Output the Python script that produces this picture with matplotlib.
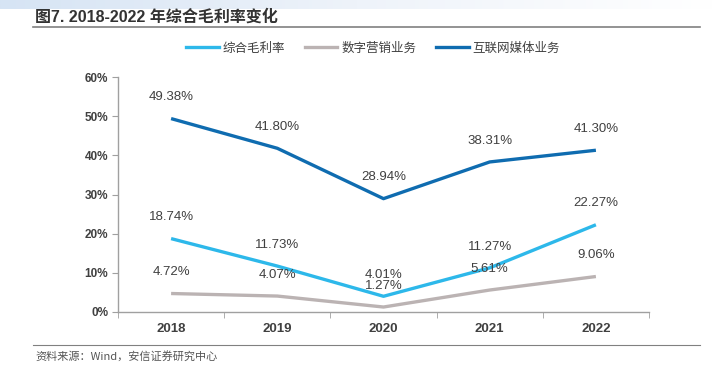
import numpy as np
import matplotlib
matplotlib.use("Agg")
import matplotlib.pyplot as plt
from matplotlib.lines import Line2D

plt.rcParams['font.family'] = ['Liberation Sans', 'Noto Sans CJK SC', 'DejaVu Sans']

years = ["2018", "2019", "2020", "2021", "2022"]
gross_margin = [18.74, 11.73, 4.01, 11.27, 22.27]      # 综合毛利率
digital_mkt = [4.72, 4.07, 1.27, 5.61, 9.06]           # 数字营销业务
internet_media = [49.38, 41.80, 28.94, 38.31, 41.30]   # 互联网媒体业务
series_names = ["综合毛利率", "数字营销业务", "互联网媒体业务"]
colors = ["#2DB8EA", "#BBB3B3", "#0F6CB0"]
y_ticks = [0, 10, 20, 30, 40, 50, 60]

fig = plt.figure(figsize=(7.13, 3.67), dpi=100)

# 顶部浅蓝渐变条
band = fig.add_axes([0, 1 - 9 / 367, 1, 9 / 367])
grad = np.linspace(0, 1, 256).reshape(1, -1)
band.imshow(grad, aspect='auto', cmap=matplotlib.colors.LinearSegmentedColormap.from_list(
    "b", ["#D6E4F4", "#EEF3FA", "#FFFFFF"]), extent=[0, 1, 0, 1])
band.axis('off')

# 标题和分隔线
fig.text(35 / 713, 1 - 17 / 367, "图7. 2018-2022 年综合毛利率变化", fontsize=11.5,
         fontweight='bold', color='#333333', va='center', ha='left',
         family=['Liberation Sans', 'Noto Sans CJK SC'])
fig.add_artist(Line2D([33 / 713, 700 / 713], [1 - 27 / 367, 1 - 27 / 367],
                      color='#808080', lw=1.2))
fig.add_artist(Line2D([33 / 713, 700 / 713], [1 - 345 / 367, 1 - 345 / 367],
                      color='#808080', lw=0.8))
fig.text(35 / 713, 1 - 356 / 367, "资料来源：Wind，安信证券研究中心", fontsize=8,
         color='#555555', va='center', ha='left', style='italic',
         family=['Noto Sans CJK SC', 'DejaVu Sans'])

ax = fig.add_axes([118 / 713, 1 - 312 / 367, (649 - 118) / 713, (312 - 77) / 367])
x = np.arange(len(years))
all_series = [gross_margin, digital_mkt, internet_media]
for vals, c, name in zip(all_series, colors, series_names):
    ax.plot(x, vals, color=c, lw=2.4, label=name, solid_capstyle='butt')
    for xi, v in zip(x, vals):
        ax.annotate(f"{v:.2f}%", (xi, v), xytext=(0, 11), textcoords='offset points',
                    ha='center', va='bottom', fontsize=9.5, color='#404040')

ax.set_xlim(-0.5, len(years) - 0.5)
ax.set_ylim(0, 60)
ax.set_yticks(y_ticks)
ax.set_yticklabels([f"{t}%" for t in y_ticks])
ax.set_xticks(x)
ax.set_xticklabels(years)
ax.set_xticks(np.arange(-0.5, len(years), 1), minor=True)
ax.tick_params(axis='x', which='major', length=0, pad=8, labelsize=9.5, labelcolor='#404040')
ax.tick_params(axis='x', which='minor', length=4, color='#A0A0A0', direction='out')
ax.tick_params(axis='y', length=4, color='#A0A0A0', direction='out', pad=3,
               labelsize=8.5, labelcolor='#404040')
for lab in ax.get_xticklabels() + ax.get_yticklabels():
    lab.set_fontweight('bold')
for s in ['top', 'right']:
    ax.spines[s].set_visible(False)
for s in ['left', 'bottom']:
    ax.spines[s].set_color('#A0A0A0')
    ax.spines[s].set_linewidth(1.0)

handles = [Line2D([0], [0], color=c, lw=2.4) for c in colors]
leg = fig.legend(handles, series_names, loc='center', bbox_to_anchor=(373 / 713, 1 - 48 / 367),
                 ncol=3, frameon=False, fontsize=9, handlelength=2.6, handletextpad=0.3,
                 columnspacing=1.6, prop={'family': ['Noto Sans CJK SC'], 'size': 9})
for t in leg.get_texts():
    t.set_color('#404040')

fig.savefig("out.png", dpi=100)
